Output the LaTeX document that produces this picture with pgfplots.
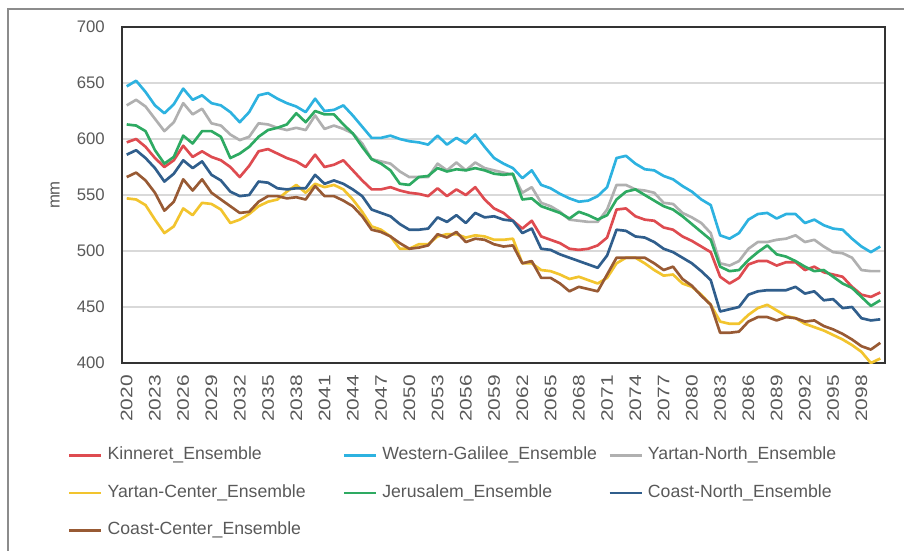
\documentclass[border=0pt]{standalone}
\usepackage{fontspec}
\setmainfont{Liberation Sans}
\usepackage{pgfplots}
\usepackage{pgfplotstable}
\pgfplotsset{compat=1.18}
\definecolor{cKin}{HTML}{DE4B50}
\definecolor{cWG}{HTML}{2DB2E0}
\definecolor{cYN}{HTML}{B0B0B0}
\definecolor{cYC}{HTML}{F2C42E}
\definecolor{cJer}{HTML}{2EAA62}
\definecolor{cCN}{HTML}{305E8C}
\definecolor{cCC}{HTML}{985A34}
\definecolor{tickgray}{HTML}{595959}
\definecolor{gridgray}{HTML}{D9D9D9}
\pgfplotstableread{
year kin wg yn yc jer cn cc
2020 597 647 630 547 613 586 566
2021 600 652 635 546 612 590 570
2022 593 642 629 541 607 583 563
2023 583 630 618 528 590 574 552
2024 575 623 607 516 578 562 536
2025 581 631 615 522 584 569 544
2026 594 645 632 538 603 581 564
2027 584 635 622 532 596 574 554
2028 589 639 627 543 607 580 564
2029 584 632 614 542 607 568 552
2030 581 630 612 537 602 563 546
2031 575 624 604 525 583 553 540
2032 566 615 599 528 587 549 534
2033 576 624 602 533 593 550 535
2034 589 639 614 540 602 562 544
2035 591 641 613 544 608 561 549
2036 587 636 610 546 610 556 549
2037 583 632 608 553 613 555 547
2038 580 629 610 559 623 556 548
2039 575 624 608 552 615 556 546
2040 586 636 621 560 625 568 558
2041 575 625 609 557 622 560 549
2042 577 626 612 559 622 563 549
2043 581 630 609 555 613 560 545
2044 572 621 605 546 605 555 540
2045 563 611 596 535 593 549 531
2046 555 601 582 522 582 537 519
2047 555 601 580 519 578 534 517
2048 557 603 578 513 572 531 513
2049 554 600 571 502 560 524 507
2050 552 598 566 502 559 519 502
2051 551 597 566 506 566 519 503
2052 549 595 566 506 567 520 505
2053 556 603 578 513 574 530 515
2054 549 595 572 515 571 526 512
2055 555 601 579 515 573 532 517
2056 550 596 572 512 572 525 508
2057 557 604 579 514 574 534 511
2058 546 593 574 513 572 530 510
2059 538 583 572 510 569 531 506
2060 534 578 570 510 568 528 504
2061 527 574 568 511 569 527 505
2062 520 565 552 489 546 516 489
2063 527 572 557 489 547 520 491
2064 513 559 543 483 540 502 476
2065 510 556 540 482 537 501 476
2066 507 551 535 479 534 497 471
2067 502 547 528 475 529 494 464
2068 501 544 527 477 535 491 468
2069 502 545 526 474 532 488 466
2070 505 549 526 471 528 485 464
2071 512 557 537 476 532 496 479
2072 537 583 559 489 546 519 494
2073 538 585 559 494 553 518 494
2074 531 578 555 494 555 513 494
2075 528 573 554 489 550 512 494
2076 527 572 552 483 545 508 489
2077 521 567 543 478 540 502 483
2078 519 564 542 479 537 499 486
2079 513 558 534 471 531 494 475
2080 509 553 530 468 524 489 469
2081 504 546 525 461 517 482 460
2082 499 541 516 452 510 474 452
2083 477 514 489 437 486 446 427
2084 471 511 487 435 482 448 427
2085 476 516 491 435 483 450 428
2086 488 528 502 443 492 461 437
2087 491 533 508 449 499 464 441
2088 491 534 508 452 505 465 441
2089 487 529 510 447 497 465 438
2090 490 533 511 442 495 465 441
2091 490 533 514 440 491 468 440
2092 483 525 508 435 486 462 437
2093 486 528 510 432 482 464 438
2094 481 523 504 429 483 456 433
2095 479 520 499 425 477 457 430
2096 477 519 498 421 471 449 426
2097 468 511 494 416 467 450 421
2098 461 504 483 410 459 440 415
2099 459 499 482 400 451 438 412
2100 463 504 482 404 456 439 418
}\data
\newcommand{\legbox}[1]{\makebox[168.75bp][l]{#1}}
\newcommand{\legboxb}[1]{\makebox[162bp][l]{#1}}
\begin{document}
\begin{tikzpicture}
\useasboundingbox (0bp,0bp) rectangle (678bp,-413.25bp);
\draw[color=black!45, line width=1.5bp] (6bp,-413.25bp) -- (6bp,-6.75bp) -- (678bp,-6.75bp);
\begin{axis}[
  at={(91.5bp,-20.25bp)}, anchor=north west,
  scale only axis, width=572.25bp, height=252bp,
  xmin=2019.5, xmax=2100.5, ymin=400, ymax=700,
  axis line style={draw=black!80, line width=1.5bp},
  xtick={2020,2023,...,2098},
  ytick={400,450,...,700},
  major tick length=0pt,
  ymajorgrids, grid style={gridgray, line width=1bp},
  /pgf/number format/assume math mode=true,
  xticklabel={\scalebox{1.25}[1]{\pgfmathprintnumber[/pgf/number format/1000 sep=]{\tick}}},
  xticklabel style={rotate=90, anchor=east, inner sep=0pt, font=\fontsize{12.6}{14}\selectfont, text=tickgray},
  xticklabel shift=9bp,
  yticklabel style={anchor=east, inner sep=0pt, font=\fontsize{12.6}{14}\selectfont, text=tickgray},
  yticklabel shift=12.75bp,
  ylabel={mm},
  ylabel style={at={(axis description cs:-0.0878,0.5)}, anchor=center, font=\fontsize{12.6}{14}\selectfont, text=tickgray},
  legend columns=3,
  legend cell align=left,
  legend image code/.code={\draw[#1, line width=2bp] (0bp,0bp) -- (24bp,0bp);},
  legend style={at={(axis description cs:-0.0708,-0.387)}, anchor=west, draw=none, fill=none,
    inner sep=0pt, outer sep=0pt, column sep=0pt, row sep=15.6bp,
    font=\fontsize{13.3}{15}\selectfont, text=tickgray,
    nodes={inner sep=0pt, text height=9.5bp, text depth=3bp},
    /tikz/every odd column/.append style={column sep=3.75bp},
    /tikz/every even column/.append style={column sep=7.5bp}},
  every axis plot/.append style={line width=2bp, line join=round, no markers},
]
\addplot[cKin] table[x=year, y=kin] {\data};
\addlegendentry{\legbox{Kinneret\_Ensemble}}
\addplot[cWG] table[x=year, y=wg] {\data};
\addlegendentry{\legboxb{Western-Galilee\_Ensemble}}
\addplot[cYN] table[x=year, y=yn] {\data};
\addlegendentry{Yartan-North\_Ensemble}
\addplot[cYC] table[x=year, y=yc] {\data};
\addlegendentry{\legbox{Yartan-Center\_Ensemble}}
\addplot[cJer] table[x=year, y=jer] {\data};
\addlegendentry{\legboxb{Jerusalem\_Ensemble}}
\addplot[cCN] table[x=year, y=cn] {\data};
\addlegendentry{Coast-North\_Ensemble}
\addplot[cCC] table[x=year, y=cc] {\data};
\addlegendentry{\legbox{Coast-Center\_Ensemble}}
\end{axis}
\end{tikzpicture}
\end{document}
